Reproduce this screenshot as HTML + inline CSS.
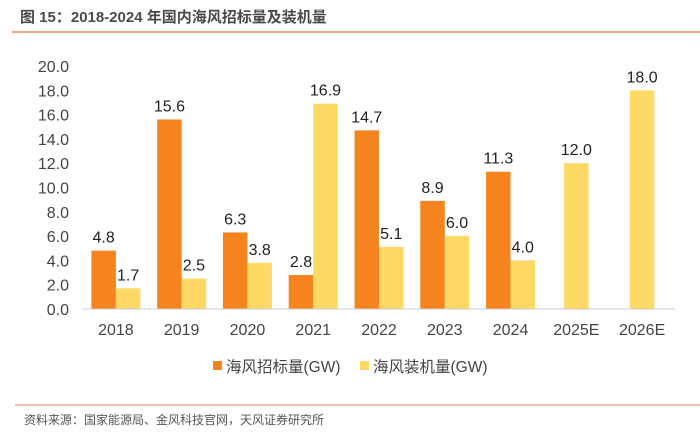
<!DOCTYPE html>
<html><head><meta charset="utf-8"><style>
body{margin:0;background:#fff;width:700px;height:438px;overflow:hidden;font-family:"Liberation Sans","Noto Sans CJK SC",sans-serif;}
</style></head><body>
<svg width="700" height="438" font-family="Liberation Sans, Noto Sans CJK SC, sans-serif">
<text x="20" y="22" font-size="15" font-weight="bold" fill="#4a4a4a">图 15：2018-2024 年国内海风招标量及装机量</text>
<line x1="12" y1="32" x2="700" y2="32" stroke="#E08A5E" stroke-width="1.5"/>
<g id="plot"></g>
<g>
<rect x="213" y="361" width="9" height="9" fill="#F5841F"/>
<text x="226" y="372" font-size="15.5" fill="#444">海风招标量(GW)</text>
<rect x="360" y="361" width="9" height="9" fill="#FFD966"/>
<text x="373" y="372" font-size="15.5" fill="#444">海风装机量(GW)</text>
</g>
<line x1="15" y1="405" x2="700" y2="405" stroke="#E08A5E" stroke-width="1"/>
<text x="24" y="424" font-size="12" fill="#555">资料来源：国家能源局、金风科技官网，天风证券研究所</text>
</svg>
<script>
const categories=["2018","2019","2020","2021","2022","2023","2024","2025E","2026E"];
const bidding=[4.8,15.6,6.3,2.8,14.7,8.9,11.3,null,null];
const installed=[1.7,2.5,3.8,16.9,5.1,6.0,4.0,12.0,18.0];
const yTicks=[0,2,4,6,8,10,12,14,16,18,20];
const L=83,R=675,T=66,B=309,yMax=20;
const y=v=>B-(v/yMax)*(B-T);
const band=(R-L)/categories.length;
const xc=i=>L+band*(i+0.5);
const NS="http://www.w3.org/2000/svg";
const g=document.getElementById('plot');
function mk(t,a){const e=document.createElementNS(NS,t);for(const k in a)e.setAttribute(k,a[k]);g.appendChild(e);return e;}
yTicks.forEach(v=>{const t=mk('text',{x:L-14,y:y(v)+6,'font-size':16,fill:'#444','text-anchor':'end'});t.textContent=v.toFixed(1);

});
const bw=24.5;
categories.forEach((c,i)=>{
 const t=mk('text',{x:xc(i),y:B+26,'font-size':16,fill:'#444','text-anchor':'middle'});t.textContent=c;
 
 
 if(bidding[i]!=null){
  const r=mk('rect',{x:xc(i)-bw,y:y(bidding[i]),width:bw,height:B-y(bidding[i]),fill:'#F5841F'});
  
  
  const l=mk('text',{x:xc(i)-bw/2,y:y(bidding[i])-8,'font-size':16,fill:'#222','text-anchor':'middle'});l.textContent=bidding[i].toFixed(1);
  
  
 }
 const ox=bidding[i]!=null?0:-bw/2;
 const r2=mk('rect',{x:xc(i)+ox,y:y(installed[i]),width:bw,height:B-y(installed[i]),fill:'#FFD966'});
 
 
 const l2=mk('text',{x:xc(i)+ox+bw/2,y:y(installed[i])-8,'font-size':16,fill:'#222','text-anchor':'middle'});l2.textContent=installed[i].toFixed(1);
 
 
});
const ax=mk('line',{x1:L,y1:B,x2:R,y2:B,stroke:'#ccc','stroke-width':1});


</script>
</body></html>
